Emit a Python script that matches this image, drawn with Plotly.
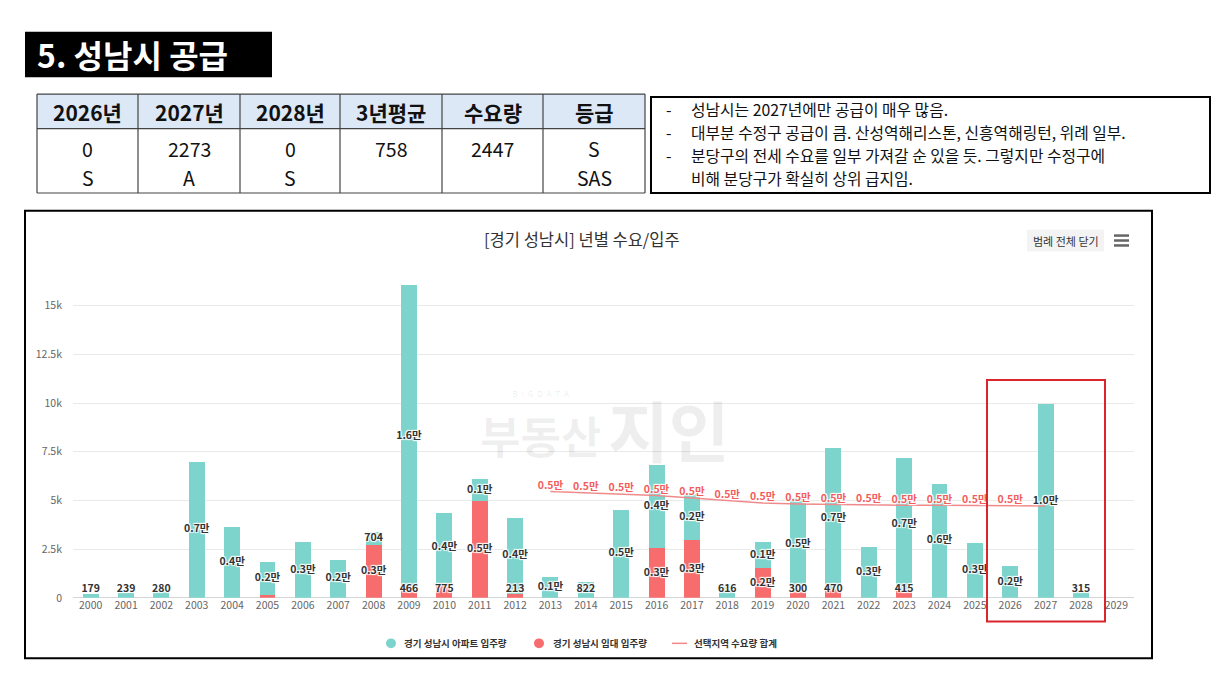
import plotly.graph_objects as go

# 데이터
years = list(range(2000, 2030))
apt = [179, 239, 280, 7000, 3650, 1700, 2850, 1950, 704, 15600,
       3600, 1150, 3900, 1050, 822, 4520, 4250, 2400, 616, 1350,
       4850, 7200, 2600, 6750, 5870, 2800, 1630, 9950, 315, 0]
rent = [0, 0, 0, 0, 0, 150, 0, 0, 2700, 466,
        775, 4950, 213, 0, 0, 0, 2550, 2950, 0, 1520,
        300, 470, 0, 415, 0, 0, 0, 0, 0, 0]
demand_years = list(range(2013, 2028))
demand = [5460, 5400, 5330, 5250, 5130, 5000, 4870, 4820, 4790, 4770,
          4760, 4760, 4750, 4750, 4720]
hidden_rent_labels = [2005]

table_header = ["2026년", "2027년", "2028년", "3년평균", "수요량", "등급"]
table_row1 = ["0", "2273", "0", "758", "2447", "S"]
table_row2 = ["S", "A", "S", "", "", "SAS"]
notes = [
    "성남시는 2027년에만 공급이 매우 많음.",
    "대부분 수정구 공급이 큼. 산성역해리스톤, 신흥역해링턴, 위례 일부.",
    "분당구의 전세 수요를 일부 가져갈 순 있을 듯. 그렇지만 수정구에",
    "비해 분당구가 확실히 상위 급지임.",
]
title = "5. 성남시 공급"
chart_title = "[경기 성남시] 년별 수요/입주"
legend_names = ["경기 성남시 아파트 입주량", "경기 성남시 임대 입주량", "선택지역 수요량 합계"]

W, H = 1216, 684
FONT = "Noto Sans CJK KR"
TEAL = "#7dd4cc"
RED = "#f76c6c"
LINE = "#f08a8a"


def fx(x):
    return x / W


def fy(y):
    return 1 - y / H


def fmt(v):
    if v >= 1000:
        return f"{v / 10000:.1f}만"
    return str(v)


fig = go.Figure()

# 막대 (임대 아래, 아파트 위)
fig.add_trace(go.Bar(x=years, y=rent, marker_color=RED, width=0.45,
                     marker_line_width=0, hoverinfo="x+y", name=legend_names[1]))
fig.add_trace(go.Bar(x=years, y=apt, marker_color=TEAL, width=0.45,
                     marker_line_width=0, hoverinfo="x+y", name=legend_names[0]))

fig.add_trace(go.Scatter(x=demand_years, y=demand, mode="lines",
                         line=dict(color=LINE, width=1.5), name=legend_names[2]))

# 데이터 라벨
shadow = "1px 1px 1px #fff, -1px -1px 1px #fff, 1px -1px 1px #fff, -1px 1px 1px #fff"
lx, ly, lt = [], [], []
for yr, r, a in zip(years, rent, apt):
    if r > 0 and yr not in hidden_rent_labels:
        lx.append(yr)
        ly.append(max(r / 2, 410))
        lt.append(fmt(r))
    if a > 0:
        lx.append(yr)
        ly.append(max(r + a / 2, 410))
        lt.append(fmt(a))
fig.add_trace(go.Scatter(x=lx, y=ly, text=lt, mode="text", textposition="middle center",
                         textfont=dict(family=FONT, size=10.5, color="#333", weight="bold",
                                       shadow=shadow),
                         hoverinfo="skip"))

fig.add_trace(go.Scatter(x=demand_years[:-1], y=demand[:-1],
                         text=[fmt(v) for v in demand[:-1]], mode="text",
                         textposition="top center",
                         textfont=dict(family=FONT, size=10.5, color="#f45b5b", weight="bold",
                                       shadow=shadow),
                         hoverinfo="skip"))

fig.update_layout(
    width=W, height=H,
    margin=dict(l=0, r=0, t=0, b=0),
    paper_bgcolor="white", plot_bgcolor="white",
    barmode="stack", showlegend=False,
    font=dict(family=FONT, color="#333"),
    xaxis=dict(domain=[fx(73), fx(1134)], range=[1999.5, 2029.5],
               tickmode="array", tickvals=years, ticks="",
               tickfont=dict(size=10.5, color="#666"), showgrid=False,
               showline=False, zeroline=False, fixedrange=True),
    yaxis=dict(domain=[fy(604), fy(280)], range=[0, 16470],
               dtick=2500, tickformat="~s", ticks="",
               tickfont=dict(size=10.5, color="#666"), ticklabelstandoff=10,
               gridcolor="#e9e9e9", gridwidth=1, zeroline=True,
               zerolinecolor="#d5d5d5", zerolinewidth=1, fixedrange=True),
)

shapes = []
ann = []

# 제목 박스
shapes.append(dict(type="rect", xref="paper", yref="paper", x0=fx(25), x1=fx(272),
                   y0=fy(78), y1=fy(32), fillcolor="black", line_width=0, layer="above"))
ann.append(dict(text=title, x=fx(35), y=fy(55), xanchor="left", yanchor="middle",
                font=dict(family=FONT, size=32, color="white", weight="bold")))

# 표
cols = [37, 138, 240, 340, 442, 543, 645]
shapes.append(dict(type="rect", xref="paper", yref="paper", x0=fx(37), x1=fx(645),
                   y0=fy(130), y1=fy(95), fillcolor="#dce8f6", line_width=0))
for yline in [95, 130, 195]:
    shapes.append(dict(type="line", xref="paper", yref="paper", x0=fx(37), x1=fx(645),
                       y0=fy(yline), y1=fy(yline), line=dict(color="#444", width=1.2)))
for xline in cols:
    shapes.append(dict(type="line", xref="paper", yref="paper", x0=fx(xline), x1=fx(xline),
                       y0=fy(195), y1=fy(95), line=dict(color="#444", width=1.2)))
for i, (h, b1, b2) in enumerate(zip(table_header, table_row1, table_row2)):
    cx = (cols[i] + cols[i + 1]) / 2
    ann.append(dict(text=h, x=fx(cx), y=fy(113), xanchor="center", yanchor="middle",
                    font=dict(family=FONT, size=21, color="#111", weight="bold")))
    ann.append(dict(text=b1, x=fx(cx), y=fy(150), xanchor="center", yanchor="middle",
                    font=dict(family=FONT, size=19.5, color="#111")))
    if b2:
        ann.append(dict(text=b2, x=fx(cx), y=fy(179), xanchor="center", yanchor="middle",
                        font=dict(family=FONT, size=19.5, color="#111")))

# 메모 박스
shapes.append(dict(type="rect", xref="paper", yref="paper", x0=fx(651), x1=fx(1210),
                   y0=fy(195), y1=fy(98), line=dict(color="black", width=2)))
for i, line in enumerate(notes):
    yy = 111 + 23 * i
    if i < 3:
        ann.append(dict(text="-", x=fx(664), y=fy(yy), xanchor="left", yanchor="middle",
                        font=dict(family=FONT, size=15.8, color="#111")))
    ann.append(dict(text=line, x=fx(689), y=fy(yy), xanchor="left", yanchor="middle",
                    font=dict(family=FONT, size=15.8, color="#111")))

# 차트 테두리
shapes.append(dict(type="rect", xref="paper", yref="paper", x0=fx(25), x1=fx(1152),
                   y0=fy(665), y1=fy(213), line=dict(color="black", width=2)))
ann.append(dict(text=chart_title, x=fx(582), y=fy(241), xanchor="center", yanchor="middle",
                font=dict(family=FONT, size=16.5, color="#333")))
shapes.append(dict(type="rect", xref="paper", yref="paper", x0=fx(1027), x1=fx(1104),
                   y0=fy(254), y1=fy(232), fillcolor="#f3f3f3", line_width=0))
ann.append(dict(text="범례 전체 닫기", x=fx(1066), y=fy(243), xanchor="center", yanchor="middle",
                font=dict(family=FONT, size=11, color="#333")))
for yy in [238, 243, 248]:
    shapes.append(dict(type="line", xref="paper", yref="paper", x0=fx(1114), x1=fx(1129),
                       y0=fy(yy), y1=fy(yy), line=dict(color="#666", width=2.5)))

# 워터마크
ann.append(dict(text="<span style='font-size:8px'>B  I  G  D  A  T  A</span><br>부동산",
                x=fx(540), y=fy(432), xanchor="center", yanchor="middle",
                font=dict(family=FONT, size=44, color="rgba(0,0,0,0.065)", weight="bold")))
ann.append(dict(text="지인", x=fx(668), y=fy(432), xanchor="center", yanchor="middle",
                font=dict(family=FONT, size=66, color="rgba(0,0,0,0.065)", weight="bold")))

# 강조 박스 (2026~2028)
shapes.append(dict(type="rect", xref="paper", yref="paper", x0=fx(987), x1=fx(1105),
                   y0=fy(628), y1=fy(384), line=dict(color="#d9262c", width=2)))

# 범례
shapes.append(dict(type="circle", xref="paper", yref="paper", x0=fx(386), x1=fx(396),
                   y0=fy(655), y1=fy(645), fillcolor=TEAL, line_width=0))
shapes.append(dict(type="circle", xref="paper", yref="paper", x0=fx(534), x1=fx(544),
                   y0=fy(655), y1=fy(645), fillcolor=RED, line_width=0))
shapes.append(dict(type="line", xref="paper", yref="paper", x0=fx(672), x1=fx(687),
                   y0=fy(650), y1=fy(650), line=dict(color=LINE, width=1.5)))
for xx, name in zip([402, 551, 692], legend_names):
    ann.append(dict(text=name, x=fx(xx), y=fy(650), xanchor="left", yanchor="middle",
                    font=dict(family=FONT, size=9.5, color="#333", weight="bold")))

for a in ann:
    a.update(xref="paper", yref="paper", showarrow=False)
fig.update_layout(shapes=shapes, annotations=ann)

fig.write_html("out.html", config={"displayModeBar": False},
               post_script="document.body.style.margin='0';")
